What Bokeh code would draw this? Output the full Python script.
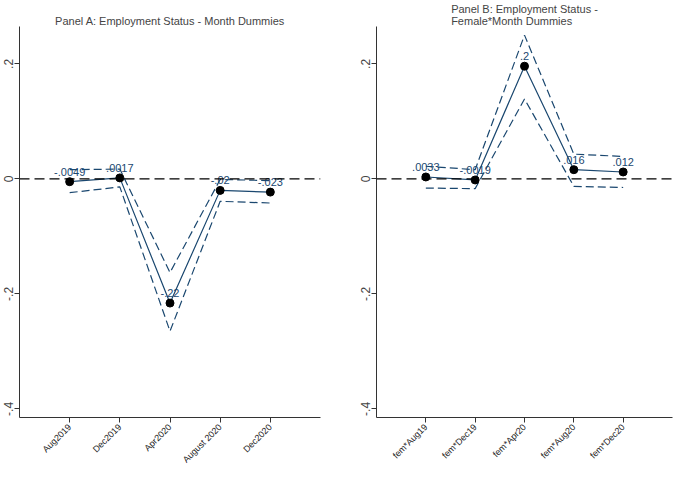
from bokeh.plotting import figure
from bokeh.layouts import row
from bokeh.models import Span, FixedTicker, ColumnDataSource, Range1d
from bokeh.core.properties import value
from bokeh.embed import file_html
from bokeh.resources import INLINE
import math

# Panel A data
labels_a = ["Aug2019", "Dec2019", "Apr2020", "August 2020", "Dec2020"]
coef_a = [-0.0049, 0.0017, -0.216, -0.020, -0.023]
lo_a = [-0.024, -0.014, -0.265, -0.039, -0.042]
hi_a = [0.016, 0.017, -0.163, -0.001, -0.003]
text_a = ["-.0049", ".0017", "-.22", "-.02", "-.023"]
title_a = "Panel A: Employment Status - Month Dummies"

# Panel B data
labels_b = ["fem*Aug19", "fem*Dec19", "fem*Apr20", "fem*Aug20", "fem*Dec20"]
coef_b = [0.0033, -0.0019, 0.196, 0.016, 0.012]
lo_b = [-0.016, -0.017, 0.139, -0.013, -0.015]
hi_b = [0.022, 0.016, 0.250, 0.043, 0.039]
text_b = [".0033", "-.0019", ".2", ".016", ".012"]
title_b = "Panel B: Employment Status -\nFemale*Month Dummies"

yticks = [-0.4, -0.2, 0, 0.2]
ytick_labels = ["-.4", "-.2", "0", ".2"]

NAVY = "#1a476f"
FONT = "Liberation Sans"
AX = "#333333"


def make_panel(title, xlabels, coef, lo, hi, texts, width, height, left, top, right):
    xs = list(range(1, len(xlabels) + 1))
    p = figure(width=width, height=height, output_backend="svg", toolbar_location=None,
               x_range=Range1d(0, 6), y_range=Range1d(-0.415, 0.265),
               min_border_left=left, min_border_top=top, min_border_right=right,
               min_border_bottom=0)
    p.title.text = title
    p.title.align = "center"
    p.title.text_font = FONT
    p.title.text_font_size = "11px"
    p.title.text_font_style = "normal"
    p.title.text_line_height = 1.0
    p.title.standoff = 0
    p.title.offset = 0
    p.outline_line_color = None
    p.xgrid.visible = False
    p.ygrid.visible = False
    p.background_fill_color = "white"
    p.border_fill_color = "white"

    zero = Span(location=0, dimension="width", line_color="black",
                line_dash="10 5", line_width=1.4)
    p.add_layout(zero)

    src = ColumnDataSource(dict(x=xs, y=coef, lo=lo, hi=hi, t=texts))
    p.line("x", "lo", source=src, line_color=NAVY, line_width=1.2, line_dash="8 4")
    p.line("x", "hi", source=src, line_color=NAVY, line_width=1.2, line_dash="8 4")
    p.line("x", "y", source=src, line_color=NAVY, line_width=1.2)
    p.scatter("x", "y", source=src, size=8, fill_color="black", line_color="black")
    p.text("x", "y", text="t", source=src, text_align="center", text_baseline="bottom",
           y_offset=-6, text_color=NAVY, text_font_size="11px", text_font=value(FONT))

    xa = p.xaxis[0]
    xa.ticker = FixedTicker(ticks=xs)
    xa.major_label_overrides = {x: l for x, l in zip(xs, xlabels)}
    xa.major_label_orientation = math.pi / 4
    xa.major_label_text_font = FONT
    xa.major_label_text_font_size = "9px"
    xa.major_label_text_line_height = 0.8
    xa.major_label_text_color = "#222222"
    xa.minor_tick_line_color = None
    xa.major_tick_in = 0
    xa.major_tick_out = 5
    xa.axis_line_color = AX
    xa.major_tick_line_color = AX
    xa.major_label_standoff = 3

    ya = p.yaxis[0]
    ya.ticker = FixedTicker(ticks=yticks)
    ya.major_label_overrides = {v: l for v, l in zip(yticks, ytick_labels)}
    ya.major_label_orientation = "vertical"
    ya.major_label_text_font = FONT
    ya.major_label_text_font_size = "12px"
    ya.minor_tick_line_color = None
    ya.major_tick_in = 0
    ya.major_tick_out = 5
    ya.axis_line_color = AX
    ya.major_tick_line_color = AX
    ya.major_label_standoff = 2
    return p


pa = make_panel(title_a, labels_a, coef_a, lo_a, hi_a, text_a, 336, 471, 0, 0, 16)
pb = make_panel(title_b, labels_b, coef_b, lo_b, hi_b, text_b, 338, 471, 40, 0, 2)

layout = row(pa, pb)
open("out.html", "w").write(file_html(layout, INLINE))
